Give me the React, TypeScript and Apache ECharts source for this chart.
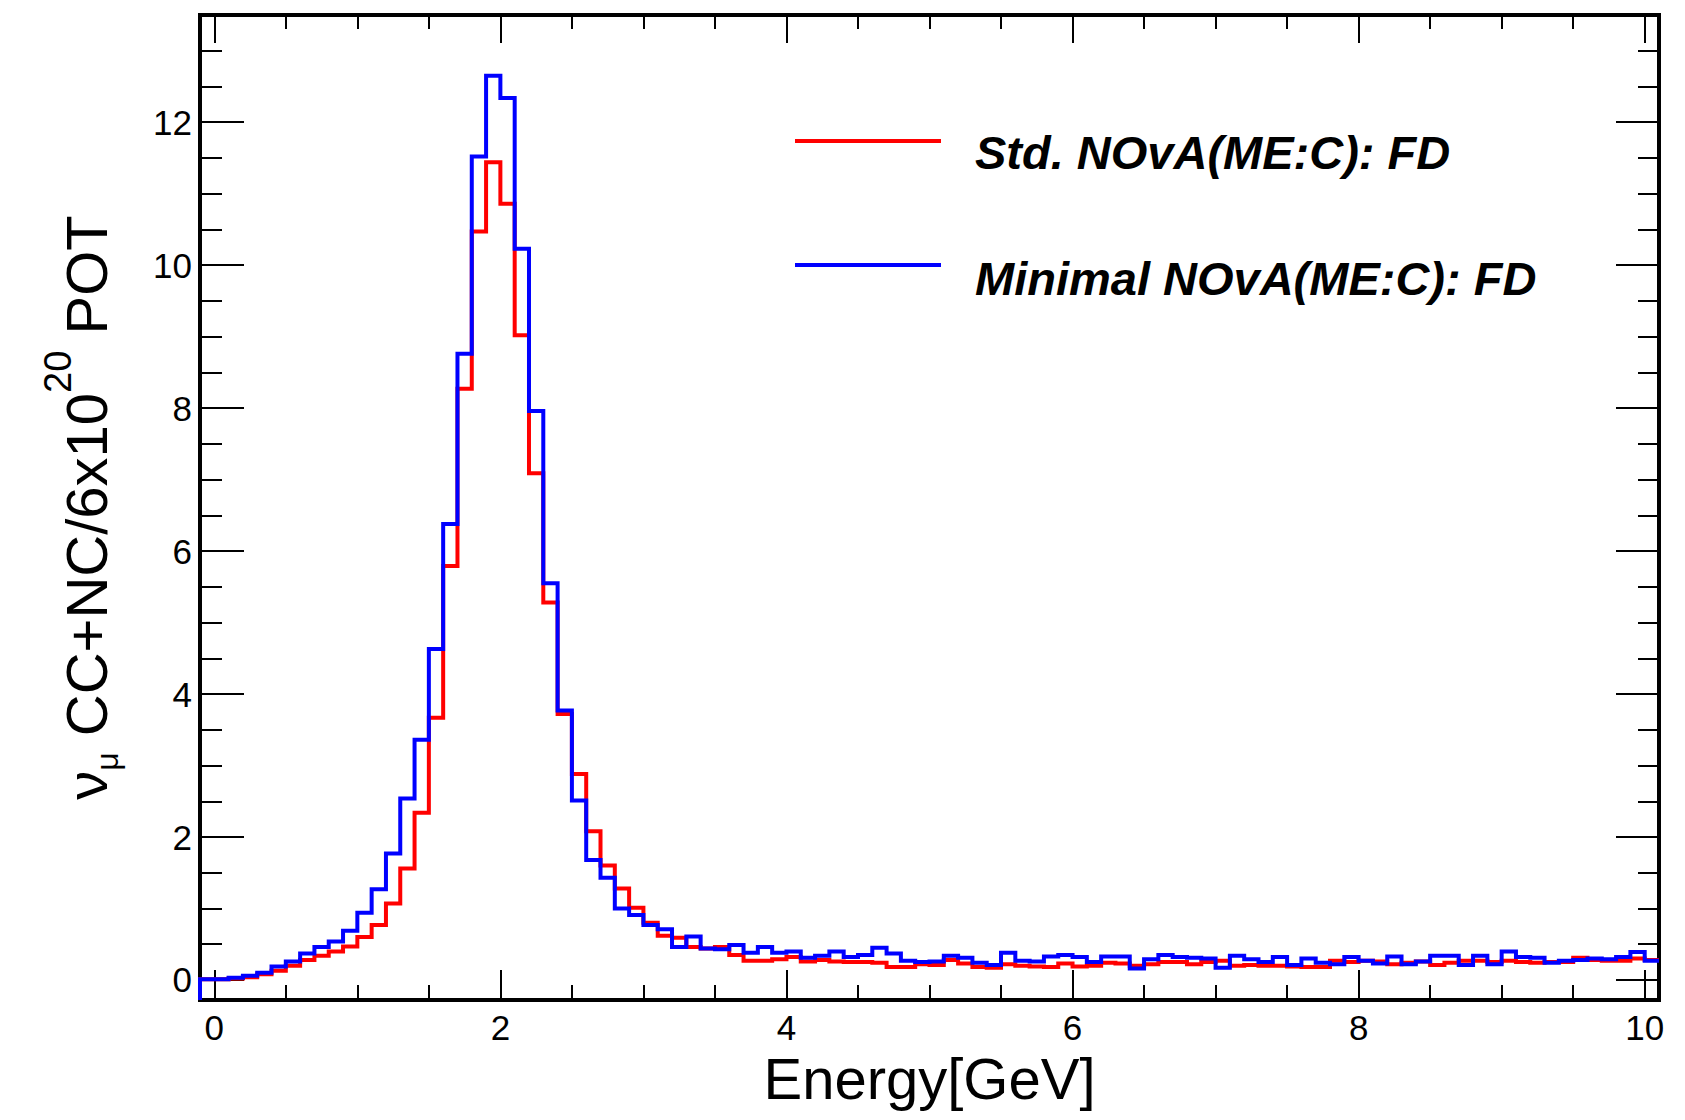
import React, { useEffect, useRef } from "react";
import * as echarts from "echarts";

// Axis ranges (GeV on x, events on y)
const X_MIN = -0.1;
const X_MAX = 10.1;
const Y_MIN = -0.28;
const Y_MAX = 13.5;

// Histogram binning: 0.1 GeV bins, first bin low edge at -0.1
const BIN_START = -0.1;
const BIN_WIDTH = 0.1;

const SERIES_NAMES = ["Std. NOvA(ME:C): FD", "Minimal NOvA(ME:C): FD"];
const SERIES_COLORS = ["#ff0000", "#0000ff"];

// Std. NOvA (red), one value per bin
const STD_VALUES = [
  0.01, 0.01, 0.02, 0.04, 0.08, 0.13, 0.2, 0.28, 0.34, 0.4,
  0.47, 0.6, 0.77, 1.07, 1.56, 2.34, 3.67, 5.79, 8.27, 10.47,
  11.44, 10.86, 9.02, 7.09, 5.28, 3.72, 2.88, 2.08, 1.6, 1.28,
  1.01, 0.8, 0.62, 0.59, 0.46, 0.44, 0.46, 0.35, 0.27, 0.27,
  0.29, 0.32, 0.26, 0.28, 0.26, 0.25, 0.25, 0.24, 0.18, 0.18,
  0.22, 0.21, 0.28, 0.23, 0.18, 0.17, 0.22, 0.2, 0.19, 0.18,
  0.23, 0.19, 0.2, 0.24, 0.23, 0.2, 0.22, 0.25, 0.25, 0.22,
  0.25, 0.27, 0.2, 0.21, 0.2, 0.2, 0.19, 0.18, 0.18, 0.27,
  0.25, 0.27, 0.26, 0.22, 0.24, 0.26, 0.21, 0.24, 0.27, 0.27,
  0.25, 0.27, 0.25, 0.24, 0.25, 0.25, 0.31, 0.28, 0.27, 0.27,
  0.3, 0.28,
];

// Minimal NOvA (blue), one value per bin
const MIN_VALUES = [
  0.01, 0.01, 0.03, 0.06, 0.1, 0.19, 0.26, 0.37, 0.46, 0.54,
  0.69, 0.94, 1.27, 1.77, 2.54, 3.36, 4.63, 6.38, 8.76, 11.52,
  12.65, 12.34, 10.23, 7.96, 5.55, 3.77, 2.51, 1.68, 1.43, 1.0,
  0.91, 0.77, 0.71, 0.46, 0.61, 0.44, 0.43, 0.49, 0.38, 0.46,
  0.38, 0.4, 0.31, 0.34, 0.4, 0.32, 0.35, 0.45, 0.37, 0.27,
  0.25, 0.26, 0.34, 0.31, 0.24, 0.21, 0.38, 0.27, 0.26, 0.33,
  0.35, 0.32, 0.25, 0.33, 0.33, 0.16, 0.29, 0.35, 0.32, 0.31,
  0.3, 0.17, 0.34, 0.29, 0.25, 0.32, 0.21, 0.3, 0.24, 0.22,
  0.32, 0.27, 0.23, 0.33, 0.22, 0.26, 0.34, 0.34, 0.21, 0.34,
  0.22, 0.4, 0.32, 0.31, 0.24, 0.27, 0.28, 0.3, 0.29, 0.32,
  0.39, 0.27,
];

const X_TICK_LABELS = ["0", "2", "4", "6", "8", "10"];
const Y_TICK_LABELS = ["0", "2", "4", "6", "8", "10", "12"];

const FONT = "Liberation Sans";

function histPoints(values: number[]): number[][] {
  const pts: number[][] = [[BIN_START, Y_MIN]];
  values.forEach((v, i) => {
    const lo = Math.round((BIN_START + i * BIN_WIDTH) * 100) / 100;
    const hi = Math.round((lo + BIN_WIDTH) * 100) / 100;
    pts.push([lo, v], [hi, v]);
  });
  return pts;
}

function labelFormatter(list: string[]) {
  return (v: number) => {
    const s = String(Math.round(v * 1000) / 1000);
    return list.includes(s) ? s : "";
  };
}

export default function App() {
  const ref = useRef<HTMLDivElement>(null);

  useEffect(() => {
    if (!ref.current) return;
    const chart = echarts.init(ref.current, undefined, { renderer: "svg" });

    const tickStyle = { color: "#000", width: 2 };

    const xCommon = {
      type: "value" as const,
      min: X_MIN,
      max: X_MAX,
      splitNumber: 5,
      axisLine: { show: false, onZero: false },
      splitLine: { show: false },
      minorSplitLine: { show: false },
    };
    const yCommon = {
      type: "value" as const,
      min: Y_MIN,
      max: Y_MAX,
      splitNumber: 7,
      axisLine: { show: false, onZero: false },
      splitLine: { show: false },
      minorSplitLine: { show: false },
    };

    const option = {
      animation: false,
      backgroundColor: "#ffffff",
      grid: {
        left: 200,
        top: 15,
        width: 1459,
        height: 985,
        show: true,
        borderColor: "#000",
        borderWidth: 4,
        backgroundColor: "transparent",
        containLabel: false,
      },
      xAxis: [
        {
          ...xCommon,
          position: "bottom",
          axisTick: { show: true, inside: true, length: 30, lineStyle: tickStyle },
          minorTick: { show: true, splitNumber: 4, length: 15, lineStyle: tickStyle },
          axisLabel: {
            show: true,
            margin: 10,
            fontSize: 35,
            fontFamily: FONT,
            color: "#000",
            formatter: labelFormatter(X_TICK_LABELS),
          },
          name: "Energy[GeV]",
          nameLocation: "middle",
          nameGap: 43,
          nameTextStyle: { fontSize: 58, fontFamily: FONT, color: "#000" },
        },
        {
          ...xCommon,
          position: "top",
          axisTick: { show: true, inside: true, length: 28, lineStyle: tickStyle },
          minorTick: { show: true, splitNumber: 4, length: 14, lineStyle: tickStyle },
          axisLabel: { show: false },
        },
      ],
      yAxis: [
        {
          ...yCommon,
          position: "left",
          axisTick: { show: true, inside: true, length: 44, lineStyle: tickStyle },
          minorTick: { show: true, splitNumber: 4, length: 22, lineStyle: tickStyle },
          axisLabel: {
            show: true,
            margin: 8,
            fontSize: 35,
            fontFamily: FONT,
            color: "#000",
            formatter: labelFormatter(Y_TICK_LABELS),
          },
          name: "{m|ν}{sub|μ}{m| CC+NC/6x10}{sup|20}{m| POT}",
          nameLocation: "middle",
          nameRotate: 90,
          nameGap: 64,
          nameTextStyle: {
            fontFamily: FONT,
            color: "#000",
            rich: {
              m: { fontSize: 58, lineHeight: 100, fontFamily: FONT, color: "#000" },
              sub: {
                fontSize: 32,
                lineHeight: 32,
                fontFamily: FONT,
                color: "#000",
                verticalAlign: "top",
                padding: [55, 0, 0, 0],
              },
              sup: {
                fontSize: 38,
                lineHeight: 38,
                fontFamily: FONT,
                color: "#000",
                verticalAlign: "top",
                padding: [3, 0, 0, 0],
              },
            },
          },
        },
        {
          ...yCommon,
          position: "right",
          axisTick: { show: true, inside: true, length: 43, lineStyle: tickStyle },
          minorTick: { show: true, splitNumber: 4, length: 21, lineStyle: tickStyle },
          axisLabel: { show: false },
        },
      ],
      series: [
        {
          name: SERIES_NAMES[0],
          type: "line",
          xAxisIndex: 0,
          yAxisIndex: 0,
          data: histPoints(STD_VALUES),
          showSymbol: false,
          symbol: "none",
          clip: true,
          lineStyle: { color: SERIES_COLORS[0], width: 4, join: "miter", cap: "butt" },
          z: 3,
        },
        {
          name: SERIES_NAMES[1],
          type: "line",
          xAxisIndex: 0,
          yAxisIndex: 0,
          data: histPoints(MIN_VALUES),
          showSymbol: false,
          symbol: "none",
          clip: true,
          lineStyle: { color: SERIES_COLORS[1], width: 4, join: "miter", cap: "butt" },
          z: 4,
        },
      ],
      graphic: [
        {
          type: "line",
          shape: { x1: 795, y1: 141, x2: 941, y2: 141 },
          style: { stroke: SERIES_COLORS[0], lineWidth: 4 },
        },
        {
          type: "text",
          x: 975,
          y: 152,
          style: {
            text: SERIES_NAMES[0],
            font: `italic bold 47px "${FONT}"`,
            fill: "#000",
            align: "left",
            verticalAlign: "middle",
          },
        },
        {
          type: "line",
          shape: { x1: 795, y1: 265, x2: 941, y2: 265 },
          style: { stroke: SERIES_COLORS[1], lineWidth: 4 },
        },
        {
          type: "text",
          x: 975,
          y: 278,
          style: {
            text: SERIES_NAMES[1],
            font: `italic bold 47px "${FONT}"`,
            fill: "#000",
            align: "left",
            verticalAlign: "middle",
          },
        },
      ],
    };

    chart.setOption(option as any);
    return () => chart.dispose();
  }, []);

  return (
    <div
      ref={ref}
      style={{
        position: "absolute",
        left: 0,
        top: 0,
        width: 1685,
        height: 1120,
        background: "#ffffff",
      }}
    />
  );
}
